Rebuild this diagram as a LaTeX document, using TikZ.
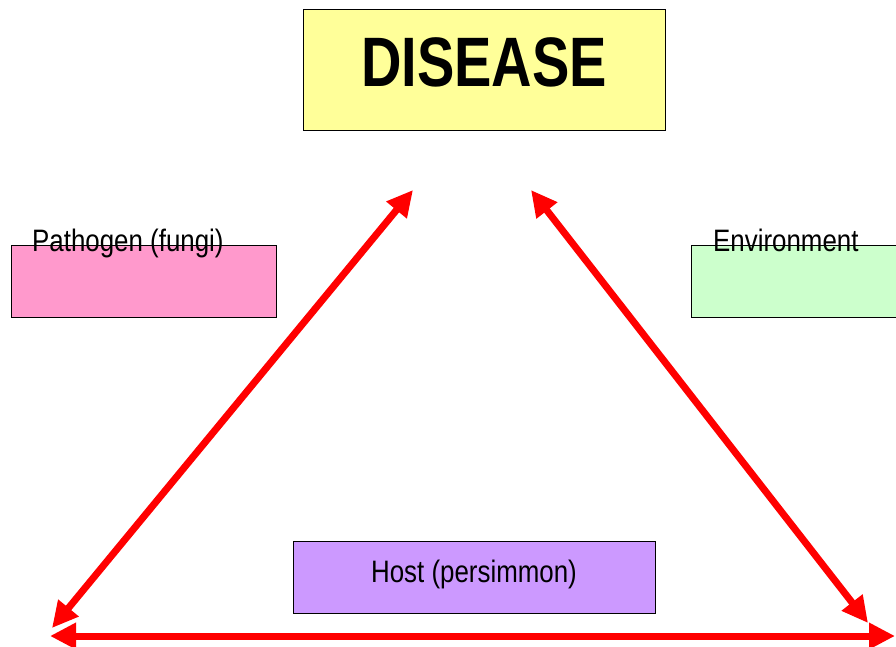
\documentclass[tikz,border=0pt]{standalone}
\usepackage{fontspec}
\setmainfont{Liberation Sans}
\newfontfamily\narrowsans[FakeStretch=0.8]{Liberation Sans}
\newfontfamily\labelsans[FakeStretch=0.835]{Liberation Sans}
\usetikzlibrary{arrows.meta}
\definecolor{diseasefill}{HTML}{FFFF99}
\definecolor{pathofill}{HTML}{FF99CC}
\definecolor{envfill}{HTML}{CCFFCC}
\definecolor{hostfill}{HTML}{CC99FF}
\definecolor{arrowred}{HTML}{FF0000}
\tikzset{
  box/.style={draw=black, line width=1.4pt, inner sep=0pt, anchor=north west},
  lbl/.style={inner sep=0pt, font=\labelsans\fontsize{31}{31}\selectfont},
  redarrow/.style={draw=arrowred, line width=7pt, {Triangle[length=26pt,width=25pt]}-{Triangle[length=26pt,width=25pt]}}
}
\begin{document}
\begin{tikzpicture}[x=1pt,y=-1pt]
\useasboundingbox (0,0) rectangle (896,647);
\clip (0,0) rectangle (896,647);
% boxes
\node[box, fill=diseasefill, minimum width=362pt, minimum height=121pt] (disease) at (303,9) {};
\node[font=\narrowsans\bfseries\fontsize{70}{70}\selectfont, inner sep=0pt] (diseasetxt) at (484,62) {DISEASE};
\node[box, fill=pathofill, minimum width=265pt, minimum height=72pt] (patho) at (11,245) {};
\node[lbl, anchor=base west] (pathotxt) at (32,251) {Pathogen (fungi)};
\node[box, fill=envfill, minimum width=220pt, minimum height=72pt] (env) at (691,245) {};
\node[lbl, anchor=base west] (envtxt) at (713,251) {Environment};
\node[box, fill=hostfill, minimum width=362pt, minimum height=72pt] (host) at (293,541) {};
\node[lbl, anchor=base] (hosttxt) at (474,582) {Host (persimmon)};
% arrow end points
\coordinate (lt) at (413,190);
\coordinate (lb) at (52,628);
\coordinate (rt) at (531,190);
\coordinate (rb) at (868,623);
\coordinate (bl) at (50,636);
\coordinate (br) at (895,636);
\draw[redarrow] (lb) -- (lt);
\draw[redarrow] (rt) -- (rb);
\draw[redarrow] (bl) -- (br);
\end{tikzpicture}
\end{document}
